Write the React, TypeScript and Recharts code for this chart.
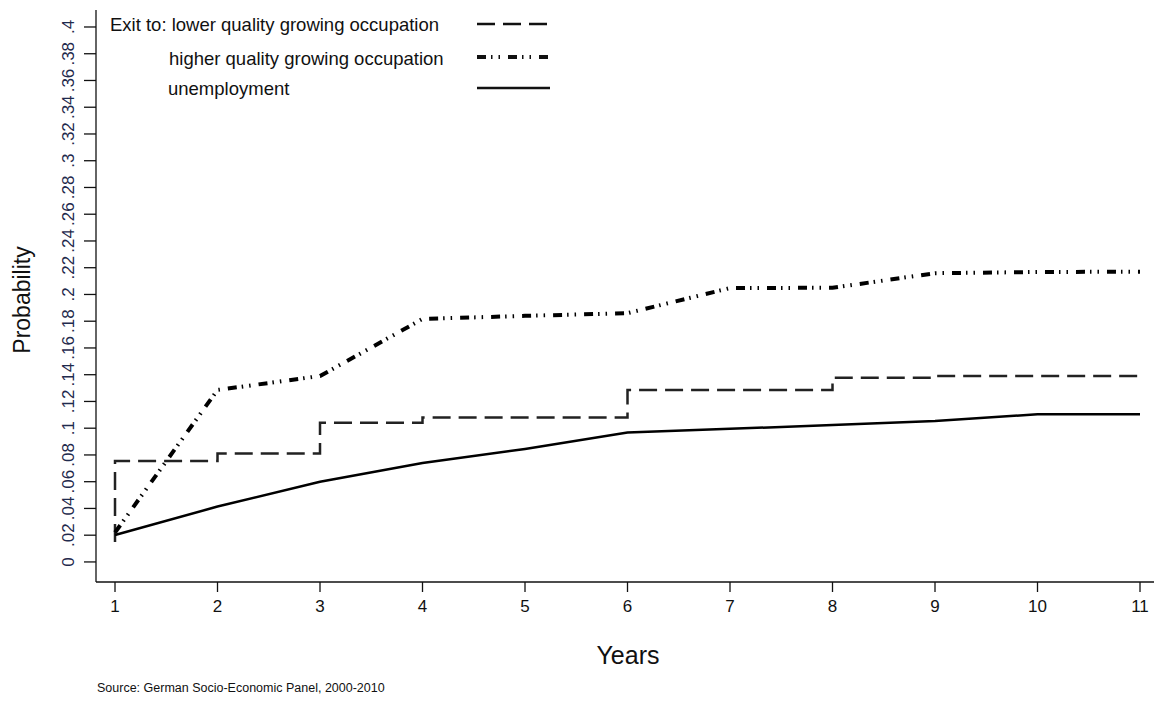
import { LineChart, Line, XAxis, YAxis } from "recharts";

// Cumulative exit probabilities by years since entry
const years = [1, 2, 3, 4, 5, 6, 7, 8, 9, 10, 11];

// lower quality growing occupation (step function, starts below its first step)
const lowerQualityStart = 0.015;
const lowerQuality = [0.0755, 0.081, 0.104, 0.108, 0.108, 0.1286, 0.1286, 0.1378, 0.139, 0.139, 0.139];
const higherQuality = [0.022, 0.1286, 0.139, 0.1817, 0.184, 0.186, 0.2048, 0.205, 0.2159, 0.2168, 0.217];
const unemployment = [0.0202, 0.0414, 0.06, 0.074, 0.0845, 0.0967, 0.0995, 0.1024, 0.1054, 0.1104, 0.1104];

const yTicks = [0, 0.02, 0.04, 0.06, 0.08, 0.1, 0.12, 0.14, 0.16, 0.18, 0.2, 0.22, 0.24, 0.26, 0.28, 0.3, 0.32, 0.34, 0.36, 0.38, 0.4];

const seriesNames = [
  "Exit to: lower quality growing occupation",
  "higher quality growing occupation",
  "unemployment",
];

const lowerData = [
  { year: years[0], p: lowerQualityStart },
  ...years.map((year, i) => ({ year, p: lowerQuality[i] })),
];
const higherData = years.map((year, i) => ({ year, p: higherQuality[i] }));
const unempData = years.map((year, i) => ({ year, p: unemployment[i] }));

const DASH_LOWER = "18 8";
const DASH_HIGHER = "9 5 1.5 6 1.5 8";

const W = 1154;
const H = 705;
const FONT = "'Liberation Sans', Arial, Helvetica, sans-serif";

// Stata-style labels: ".02" instead of "0.02"
const fmtProb = (v: number) => (v === 0 ? "0" : String(v).replace(/^0/, ""));

const YTick = (props: any) => {
  const { x, y, payload } = props;
  return (
    <text
      x={x}
      y={y}
      transform={`rotate(-90 ${x} ${y})`}
      textAnchor="middle"
      fontSize={17}
      fill="#1f2a4d"
      fontFamily={FONT}
    >
      {fmtProb(payload.value)}
    </text>
  );
};

const legendRows = [
  { x: 102, y: 16, lineY: 16, dash: DASH_LOWER, width: 2.5 },
  { x: 161, y: 50, lineY: 49, dash: DASH_HIGHER, width: 4 },
  { x: 160, y: 80, lineY: 80, dash: undefined, width: 2.5 },
];

export default function App() {
  return (
    <div style={{ position: "relative", width: W, height: H, fontFamily: FONT }}>
      <LineChart width={W} height={H} data={unempData} margin={{ top: 2, right: 0, bottom: 91, left: 0 }}>
        <XAxis
          type="number"
          dataKey="year"
          domain={[0.8146, 11.2146]}
          ticks={years}
          allowDataOverflow
          height={40}
          tickSize={10}
          tickMargin={8}
          axisLine={{ stroke: "#111", strokeWidth: 1.3 }}
          tickLine={{ stroke: "#111", strokeWidth: 1.3 }}
          tick={{ fontSize: 17, fill: "#111", fontFamily: FONT }}
        />
        <YAxis
          type="number"
          domain={[-0.015, 0.4127]}
          ticks={yTicks}
          allowDataOverflow
          width={88}
          tickSize={12}
          tickMargin={10}
          interval={0}
          axisLine={{ stroke: "#111", strokeWidth: 1.3 }}
          tickLine={{ stroke: "#111", strokeWidth: 1.3 }}
          tick={<YTick />}
        />
        <Line
          data={lowerData}
          dataKey="p"
          type="stepAfter"
          stroke="#222"
          strokeWidth={2.5}
          strokeDasharray={DASH_LOWER}
          dot={false}
          activeDot={false}
          isAnimationActive={false}
        />
        <Line
          data={higherData}
          dataKey="p"
          type="linear"
          stroke="#000"
          strokeWidth={4}
          strokeDasharray={DASH_HIGHER}
          dot={false}
          activeDot={false}
          isAnimationActive={false}
        />
        <Line
          data={unempData}
          dataKey="p"
          type="linear"
          stroke="#000"
          strokeWidth={2.5}
          dot={false}
          activeDot={false}
          isAnimationActive={false}
        />
      </LineChart>
      <svg
        width={W}
        height={H}
        style={{ position: "absolute", left: 0, top: 0, pointerEvents: "none" }}
        fontFamily={FONT}
      >
        {legendRows.map((r, i) => (
          <g key={seriesNames[i]}>
            <text x={r.x} y={r.y} dominantBaseline="central" fontSize={18.5} fill="#111">
              {seriesNames[i]}
            </text>
            <line
              x1={469}
              x2={542}
              y1={r.lineY}
              y2={r.lineY}
              stroke="#111"
              strokeWidth={r.width}
              strokeDasharray={r.dash}
            />
          </g>
        ))}
        <text
          x={14}
          y={292}
          transform="rotate(-90 14 292)"
          textAnchor="middle"
          dominantBaseline="central"
          fontSize={23}
          fill="#111"
        >
          Probability
        </text>
        <text x={620} y={647} textAnchor="middle" dominantBaseline="central" fontSize={25} fill="#111">
          Years
        </text>
        <text x={89} y={680} dominantBaseline="central" fontSize={12.5} fill="#111">
          Source: German Socio-Economic Panel, 2000-2010
        </text>
      </svg>
    </div>
  );
}
